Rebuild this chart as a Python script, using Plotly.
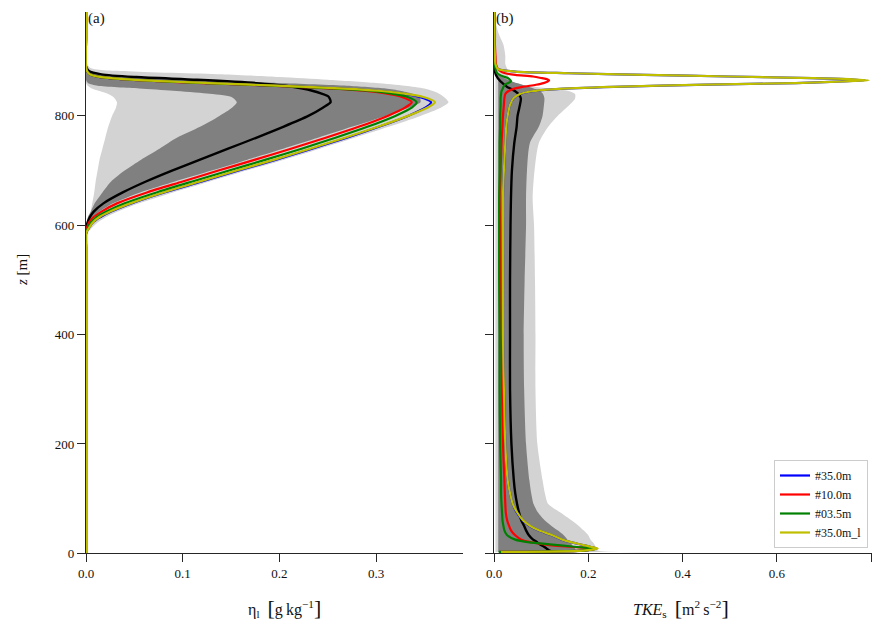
import plotly.graph_objects as go

# ---------------- panel (a): liquid water mixing ratio profiles ----------------
z_a = [0, 300, 560, 585, 595, 605, 615, 625, 640, 660, 680, 700, 720, 740, 760, 780, 800,
       815, 825, 835, 841, 846, 850, 855, 860, 866, 871, 876, 882, 890, 940, 990]

eta_blue = [0, 0, 0, 0, 0.003, 0.007, 0.015, 0.026, 0.047, 0.081, 0.120, 0.158, 0.197, 0.234, 0.270, 0.303, 0.333,
            0.351, 0.357, 0.344, 0.325, 0.300, 0.265, 0.200, 0.125, 0.050, 0.015, 0.004, 0.001, 0, 0, 0]
eta_red = [0, 0, 0, 0, 0.001, 0.003, 0.008, 0.016, 0.032, 0.063, 0.100, 0.137, 0.175, 0.212, 0.248, 0.282, 0.312,
           0.330, 0.337, 0.326, 0.310, 0.288, 0.256, 0.196, 0.122, 0.049, 0.015, 0.004, 0.001, 0, 0, 0]
eta_green = [0, 0, 0, 0, 0.002, 0.005, 0.011, 0.021, 0.040, 0.073, 0.110, 0.148, 0.186, 0.223, 0.258, 0.291, 0.320,
             0.337, 0.342, 0.332, 0.315, 0.293, 0.260, 0.198, 0.124, 0.050, 0.015, 0.004, 0.001, 0, 0, 0]
eta_yellow = [0, 0, 0, 0, 0.003, 0.007, 0.014, 0.025, 0.046, 0.080, 0.118, 0.156, 0.195, 0.232, 0.268, 0.302, 0.333,
              0.353, 0.361, 0.348, 0.328, 0.303, 0.268, 0.203, 0.127, 0.051, 0.016, 0.004, 0.001, 0, 0, 0]
eta_mean = [0, 0, 0, 0, 0.0005, 0.0015, 0.004, 0.008, 0.018, 0.038, 0.062, 0.089, 0.118, 0.147, 0.176, 0.204, 0.230,
            0.245, 0.253, 0.251, 0.243, 0.234, 0.224, 0.206, 0.176, 0.115, 0.052, 0.016, 0.003, 0, 0, 0]

eta_outer_lo = [0, 0, 0, 0, 0.0005, 0.0015, 0.003, 0.0048, 0.0065, 0.0085, 0.010, 0.012, 0.014, 0.017, 0.020, 0.023,
                0.027, 0.031, 0.032, 0.028, 0.022, 0.013, 0.006, 0.002, 0, 0, 0, 0, 0, 0, 0, 0]
eta_outer_hi = [0, 0, 0, 0.001, 0.006, 0.012, 0.021, 0.033, 0.055, 0.090, 0.128, 0.166, 0.205, 0.242, 0.278, 0.313,
                0.346, 0.367, 0.375, 0.370, 0.365, 0.358, 0.350, 0.330, 0.300, 0.250, 0.200, 0.140, 0.040, 0.003, 0, 0]
eta_inner_lo = [0, 0, 0, 0, 0.0003, 0.001, 0.002, 0.005, 0.009, 0.017, 0.026, 0.040, 0.057, 0.076, 0.094, 0.118,
                0.138, 0.151, 0.156, 0.150, 0.125, 0.090, 0.055, 0.012, 0.002, 0, 0, 0, 0, 0, 0, 0]
eta_inner_hi = [0, 0, 0, 0, 0.001, 0.003, 0.007, 0.014, 0.028, 0.056, 0.092, 0.130, 0.167, 0.204, 0.240, 0.275,
                0.310, 0.334, 0.346, 0.345, 0.337, 0.325, 0.310, 0.270, 0.200, 0.120, 0.050, 0.016, 0.003, 0, 0, 0]

# ---------------- panel (b): subgrid TKE profiles ----------------
z_b = [2.5, 5, 8.5, 12, 16, 20, 25, 33, 42, 50, 60, 75, 90, 110, 134, 200, 300, 400, 500, 600,
       650, 700, 750, 780, 800, 820, 832, 840, 845, 849, 853, 857, 860, 863, 865, 867, 869, 872, 875, 878,
       881, 886, 895, 910, 930, 950, 970, 990]

tke_yellow = [0.015, 0.190, 0.220, 0.205, 0.185, 0.165, 0.145, 0.124, 0.095, 0.077, 0.062, 0.049, 0.040, 0.034, 0.029,
              0.024, 0.021, 0.019, 0.019, 0.019, 0.019, 0.021, 0.024, 0.026, 0.029, 0.034, 0.041, 0.055, 0.080, 0.130,
              0.250, 0.450, 0.640, 0.745, 0.795, 0.760, 0.680, 0.500, 0.320, 0.160, 0.045, 0.008, 0.003, 0.002,
              0.001, 0.001, 0.001, 0.001]
tke_blue = [0.016, 0.188, 0.218, 0.204, 0.184, 0.164, 0.144, 0.123, 0.094, 0.076, 0.061, 0.048, 0.040, 0.034, 0.029,
            0.024, 0.021, 0.019, 0.019, 0.019, 0.019, 0.021, 0.024, 0.026, 0.029, 0.034, 0.041, 0.056, 0.082, 0.133,
            0.255, 0.455, 0.640, 0.740, 0.788, 0.752, 0.675, 0.497, 0.318, 0.158, 0.045, 0.008, 0.003, 0.002,
            0.001, 0.001, 0.001, 0.001]
tke_red = [0.012, 0.185, 0.215, 0.160, 0.110, 0.080, 0.058, 0.045, 0.036, 0.032, 0.028, 0.025, 0.024, 0.023, 0.022,
           0.019, 0.017, 0.015, 0.014, 0.013, 0.012, 0.014, 0.016, 0.018, 0.019, 0.021, 0.022, 0.024, 0.030, 0.040,
           0.060, 0.089, 0.105, 0.114, 0.117, 0.113, 0.102, 0.083, 0.045, 0.024, 0.015, 0.008, 0.004, 0.003,
           0.002, 0.002, 0.001, 0.001]
tke_green = [0.010, 0.185, 0.216, 0.170, 0.124, 0.075, 0.045, 0.028, 0.022, 0.020, 0.018, 0.017, 0.016, 0.015, 0.015,
             0.013, 0.012, 0.012, 0.011, 0.011, 0.011, 0.012, 0.012, 0.013, 0.013, 0.014, 0.014, 0.015, 0.016, 0.018,
             0.020, 0.023, 0.030, 0.036, 0.035, 0.033, 0.030, 0.020, 0.012, 0.007, 0.005, 0.003, 0.002, 0.002,
             0.001, 0.001, 0.001, 0.001]
tke_mean = [0.125, 0.118, 0.112, 0.106, 0.098, 0.092, 0.083, 0.074, 0.068, 0.064, 0.058, 0.053, 0.049, 0.045, 0.042,
            0.037, 0.034, 0.034, 0.034, 0.035, 0.036, 0.038, 0.043, 0.048, 0.050, 0.055, 0.057, 0.052, 0.045, 0.037,
            0.028, 0.022, 0.018, 0.014, 0.012, 0.010, 0.008, 0.006, 0.004, 0.003, 0.002, 0.002, 0.001, 0.001,
            0.001, 0.001, 0.001, 0.001]

tke_outer_lo = [0.003] * 42 + [0.002, 0.002, 0.001, 0.001, 0, 0]
tke_outer_hi = [0.366, 0.220, 0.218, 0.216, 0.213, 0.210, 0.205, 0.200, 0.190, 0.180, 0.165, 0.140, 0.115, 0.108, 0.103,
                0.092, 0.088, 0.088, 0.087, 0.085, 0.082, 0.086, 0.095, 0.115, 0.135, 0.160, 0.172, 0.172, 0.160, 0.130,
                0.090, 0.060, 0.045, 0.038, 0.035, 0.033, 0.032, 0.031, 0.030, 0.030, 0.030, 0.028, 0.024, 0.024,
                0.020, 0.010, 0.004, 0.002]
tke_inner_lo = [0.009] * 36 + [0.008, 0.006, 0.005, 0.004, 0.003, 0.003, 0.002, 0.001, 0, 0, 0, 0]
tke_inner_hi = [0.310, 0.175, 0.172, 0.168, 0.165, 0.160, 0.156, 0.148, 0.135, 0.122, 0.108, 0.093, 0.084, 0.079, 0.075,
                0.068, 0.064, 0.063, 0.065, 0.068, 0.068, 0.070, 0.076, 0.095, 0.103, 0.106, 0.107, 0.104, 0.098, 0.088,
                0.075, 0.060, 0.048, 0.038, 0.032, 0.027, 0.022, 0.016, 0.011, 0.008, 0.006, 0.004, 0.003, 0.002,
                0.001, 0.001, 0, 0]

runs = ["#35.0m", "#10.0m", "#03.5m", "#35.0m_l"]
run_colors = ["#0000ff", "#ff0000", "#008000", "#bfbf00"]
eta_runs = [eta_blue, eta_red, eta_green, eta_yellow]
tke_runs = [tke_blue, tke_red, tke_green, tke_yellow]

LIGHT = "#d3d3d3"
DARK = "#808080"
SPINE = "#262626"
FONT = "Liberation Serif"
TEXT = "#111111"

fig = go.Figure()


def add_band(lo, hi, z, color, xa, ya):
    fig.add_trace(go.Scatter(
        x=list(lo) + list(hi)[::-1], y=list(z) + list(z)[::-1],
        mode="lines", fill="toself", fillcolor=color,
        line=dict(width=0, shape="spline", smoothing=0.7),
        hoverinfo="skip", showlegend=False, xaxis=xa, yaxis=ya))


def add_line(x, z, color, width, xa, ya, name=None, legend=False):
    fig.add_trace(go.Scatter(
        x=x, y=z, mode="lines", name=name,
        line=dict(color=color, width=width, shape="spline", smoothing=0.7),
        showlegend=legend, legendgroup=name, xaxis=xa, yaxis=ya))


# panel (a)
add_band(eta_outer_lo, eta_outer_hi, z_a, LIGHT, "x", "y")
add_band(eta_inner_lo, eta_inner_hi, z_a, DARK, "x", "y")
add_line(eta_mean, z_a, "black", 2.4, "x", "y")
for name, col, vals in zip(runs, run_colors, eta_runs):
    add_line(vals, z_a, col, 2.2, "x", "y", name=name, legend=True)

# panel (b)
add_band(tke_outer_lo, tke_outer_hi, z_b, LIGHT, "x2", "y2")
add_band(tke_inner_lo, tke_inner_hi, z_b, DARK, "x2", "y2")
add_line(tke_mean, z_b, "black", 2.4, "x2", "y2")
for name, col, vals in zip(runs, run_colors, tke_runs):
    add_line(vals, z_b, col, 2.2, "x2", "y2", name=name)

W, H = 872, 623
y_dom = [(H - 553.3) / H, (H - 12) / H]

axis_common = dict(showline=True, linecolor=SPINE, linewidth=1.2, ticks="outside", ticklen=8,
                   tickwidth=1.2, tickcolor=SPINE, showgrid=False, zeroline=False, automargin=False,
                   layer="below traces", tickfont=dict(family=FONT, size=13, color=TEXT))

fig.update_layout(
    template="none",
    width=W, height=H, margin=dict(l=0, r=0, t=0, b=0, pad=0),
    paper_bgcolor="white", plot_bgcolor="white",
    font=dict(family=FONT, size=13, color=TEXT),
    xaxis=dict(domain=[86 / W, 463 / W], range=[0, 0.39], anchor="y",
               tickvals=[0, 0.1, 0.2, 0.3], ticktext=["0.0", "0.1", "0.2", "0.3"], **axis_common),
    yaxis=dict(domain=y_dom, range=[0, 990], anchor="x",
               tickvals=[0, 200, 400, 600, 800], **axis_common),
    xaxis2=dict(domain=[494 / W, 1.0], range=[0, 0.802], anchor="y2",
                tickvals=[0, 0.2, 0.4, 0.6, 0.8], ticktext=["0.0", "0.2", "0.4", "0.6", "0.8"], **axis_common),
    yaxis2=dict(domain=y_dom, range=[0, 990], anchor="x2", matches="y",
                tickvals=[0, 200, 400, 600, 800], showticklabels=False, **axis_common),
    legend=dict(x=868 / W, y=(H - 548) / H, xanchor="right", yanchor="bottom",
                bgcolor="rgba(255,255,255,0.8)", bordercolor="#cccccc", borderwidth=1,
                font=dict(family=FONT, size=12, color=TEXT), itemwidth=30, tracegroupgap=0),
)

big = '<span style="font-size:22px">'
annotations = [
    dict(text="(a)", x=86 / W, y=1 - 18 / H, xanchor="left", yanchor="middle", font=dict(size=15)),
    dict(text="(b)", x=494 / W, y=1 - 18 / H, xanchor="left", yanchor="middle", font=dict(size=15)),
    dict(text="<i>z</i> [m]", x=22 / W, y=1 - 270 / H, xanchor="center", yanchor="middle",
         textangle=-90, font=dict(size=15)),
    dict(text="η<sub>l</sub>\u2002" + big + "[</span>g\u2009kg<sup>−1</sup>" + big + "]</span>",
         x=284 / W, y=1 - 607 / H, xanchor="center", yanchor="middle", font=dict(size=16)),
    dict(text="<i>TKE</i><sub>s</sub>\u2002" + big + "[</span>m<sup>2</sup>\u2009s<sup>−2</sup>" + big + "]</span>",
         x=681 / W, y=1 - 607 / H, xanchor="center", yanchor="middle", font=dict(size=16)),
]
for a in annotations:
    a.update(xref="paper", yref="paper", showarrow=False)
    a["font"] = dict(family=FONT, color=TEXT, **a["font"])
fig.update_layout(annotations=annotations)

fig.write_html("out.html")
